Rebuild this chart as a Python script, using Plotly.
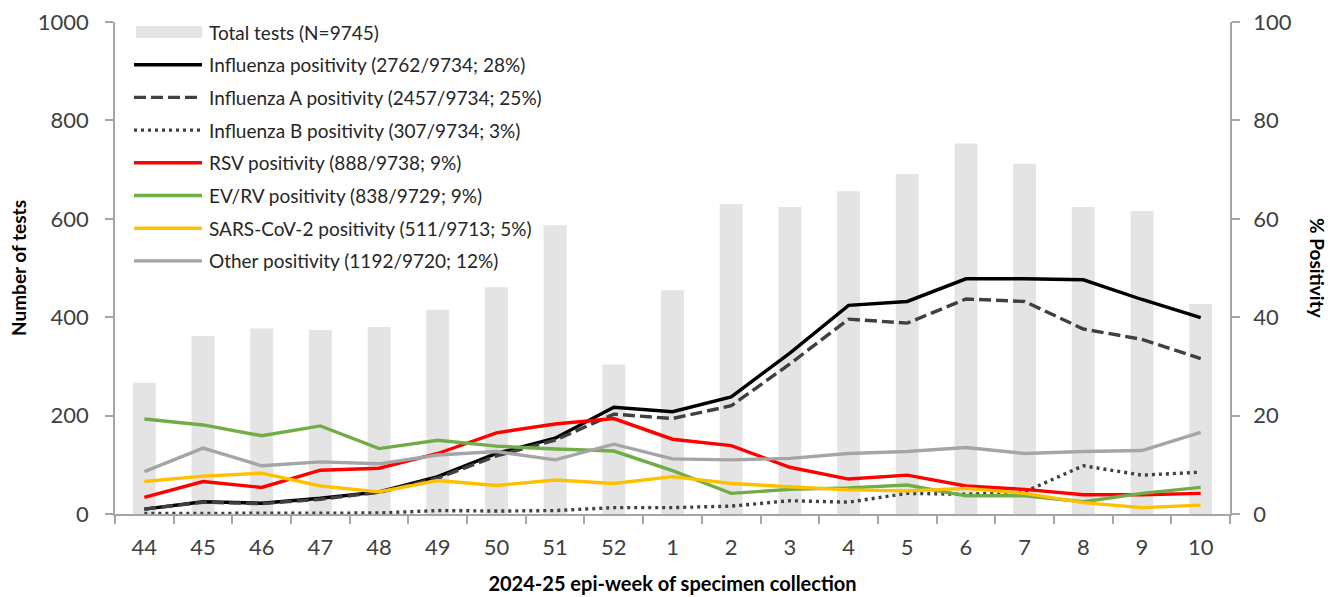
import plotly.graph_objects as go

# Epi-weeks of specimen collection, 2024-25 season
weeks = ["44", "45", "46", "47", "48", "49", "50", "51", "52",
         "1", "2", "3", "4", "5", "6", "7", "8", "9", "10"]

# Weekly number of specimens tested
total_tests = [267, 362, 377, 374, 380, 415, 461, 587, 304,
               455, 630, 624, 656, 691, 753, 712, 624, 616, 427]

# Weekly percent positivity by pathogen
influenza = [1.0, 2.5, 2.2, 3.2, 4.5, 7.6, 12.3, 15.4, 21.7,
             20.8, 23.8, 32.7, 42.4, 43.2, 47.8, 47.8, 47.6, 43.6, 39.9]
influenza_a = [1.0, 2.4, 2.1, 3.0, 4.4, 7.3, 11.8, 15.0, 20.3,
               19.4, 22.0, 30.5, 39.6, 38.8, 43.7, 43.2, 37.6, 35.5, 31.6]
influenza_b = [0.1, 0.1, 0.1, 0.1, 0.2, 0.7, 0.6, 0.7, 1.3,
               1.3, 1.6, 2.7, 2.4, 4.2, 4.0, 4.5, 9.8, 7.9, 8.5]
rsv = [3.4, 6.6, 5.4, 8.9, 9.3, 12.3, 16.5, 18.3, 19.4,
       15.2, 13.9, 9.5, 7.1, 7.9, 5.7, 5.0, 3.9, 3.9, 4.2]
ev_rv = [19.3, 18.1, 15.9, 17.9, 13.3, 15.0, 13.8, 13.2, 12.8,
         8.8, 4.2, 5.0, 5.3, 5.9, 3.7, 3.7, 2.5, 4.2, 5.4]
sars_cov_2 = [6.6, 7.7, 8.3, 5.7, 4.5, 6.8, 5.8, 6.9, 6.2,
              7.6, 6.2, 5.5, 4.9, 4.7, 5.2, 4.2, 2.3, 1.3, 1.8]
other = [8.6, 13.4, 9.8, 10.6, 10.2, 12.0, 12.7, 11.0, 14.2,
         11.2, 11.0, 11.3, 12.3, 12.7, 13.5, 12.3, 12.7, 12.9, 16.6]

bar_label = "Total tests (N=9745)"
line_labels = [
    "Influenza positivity (2762/9734; 28%)",
    "Influenza A positivity (2457/9734; 25%)",
    "Influenza B positivity (307/9734; 3%)",
    "RSV positivity (888/9738; 9%)",
    "EV/RV positivity (838/9729; 9%)",
    "SARS-CoV-2 positivity (511/9713; 5%)",
    "Other positivity (1192/9720; 12%)",
]
line_values = [influenza, influenza_a, influenza_b, rsv, ev_rv, sars_cov_2, other]

# Line styling (colour, dash pattern) per series
line_styles = [
    ("#000000", "solid"),
    ("#404040", "12px,5px"),
    ("#404040", "3px,4px"),
    ("#FF0000", "solid"),
    ("#70AD47", "solid"),
    ("#FFC000", "solid"),
    ("#A5A5A5", "solid"),
]
BAR_COLOR = "#E4E4E4"
AXIS_COLOR = "#A6A6A6"
TICK_FONT_COLOR = "#404040"
FONT = "Lato, 'Open Sans', sans-serif"
LINE_WIDTH = 3.4

W, H = 1338, 597
M_L, M_R, M_T, M_B = 115, 108, 22, 83
PLOT_W = W - M_L - M_R
PLOT_H = H - M_T - M_B


def px_x(px):
    """Pixel x position -> paper coordinate."""
    return (px - M_L) / PLOT_W


def px_y(py):
    """Pixel y position (from top) -> paper coordinate."""
    return (H - M_B - py) / PLOT_H


fig = go.Figure()

fig.add_trace(go.Bar(
    x=weeks, y=total_tests, name=bar_label,
    marker=dict(color=BAR_COLOR, line=dict(width=0)),
    width=0.39, showlegend=False, yaxis="y",
))

for label, vals, (color, dash) in zip(line_labels, line_values, line_styles):
    fig.add_trace(go.Scatter(
        x=weeks, y=vals, name=label, mode="lines",
        line=dict(color=color, width=LINE_WIDTH, dash=dash),
        showlegend=False, yaxis="y2",
    ))

# Legend block in the upper-left corner of the plot area
shapes = []
annotations = []
row_top = 32
row_step = 32.7
sw_x0, sw_x1, text_x = 134, 202, 207
legend_font = dict(family=FONT, size=19, color="#262626")

shapes.append(dict(
    type="rect", xref="paper", yref="paper",
    x0=px_x(sw_x0 + 2), x1=px_x(sw_x1), y0=px_y(row_top - 6), y1=px_y(row_top + 6),
    fillcolor=BAR_COLOR, line=dict(width=0),
))
annotations.append(dict(
    xref="paper", yref="paper", x=px_x(text_x), y=px_y(row_top),
    text=bar_label, showarrow=False, xanchor="left", yanchor="middle",
    font=legend_font,
))
for i, (label, (color, dash)) in enumerate(zip(line_labels, line_styles), start=1):
    yc = row_top + i * row_step
    shapes.append(dict(
        type="line", xref="paper", yref="paper",
        x0=px_x(sw_x0), x1=px_x(sw_x1), y0=px_y(yc), y1=px_y(yc),
        line=dict(color=color, width=LINE_WIDTH, dash=dash),
    ))
    annotations.append(dict(
        xref="paper", yref="paper", x=px_x(text_x), y=px_y(yc),
        text=label, showarrow=False, xanchor="left", yanchor="middle",
        font=legend_font,
    ))

# Right-hand axis title, reading top to bottom
annotations.append(dict(
    xref="paper", yref="paper", x=px_x(1318), y=0.5,
    text="<b>% Positivity</b>", textangle=90, showarrow=False,
    xanchor="center", yanchor="middle",
    font=dict(family=FONT, size=19, color="#000000"),
))

axis_common = dict(
    showgrid=False, zeroline=False, showline=True, linecolor=AXIS_COLOR,
    linewidth=1.5, ticks="outside", tickcolor=AXIS_COLOR, tickwidth=1.5,
    ticklen=8, tickfont=dict(family=FONT, size=22, color=TICK_FONT_COLOR),
)

fig.update_layout(
    width=W, height=H,
    margin=dict(l=M_L, r=M_R, t=M_T, b=M_B, autoexpand=False),
    paper_bgcolor="white", plot_bgcolor="white",
    font=dict(family=FONT),
    bargap=0.6,
    showlegend=False,
    xaxis=dict(
        type="category", tickson="boundaries", range=[-0.5, 18.5],
        ticklabelstandoff=13,
        title=dict(text="<b>2024-25 epi-week of specimen collection</b>",
                   font=dict(family=FONT, size=20, color="#000000"), standoff=18),
        **axis_common,
    ),
    yaxis=dict(
        range=[0, 1000], dtick=200, ticklabelstandoff=12,
        title=dict(text="<b>Number of tests</b>",
                   font=dict(family=FONT, size=19, color="#000000"), standoff=6),
        **axis_common,
    ),
    yaxis2=dict(
        range=[0, 100], dtick=20, overlaying="y", side="right",
        ticklabelstandoff=9,
        **axis_common,
    ),
    shapes=shapes,
    annotations=annotations,
)

fig.write_html("out.html")
